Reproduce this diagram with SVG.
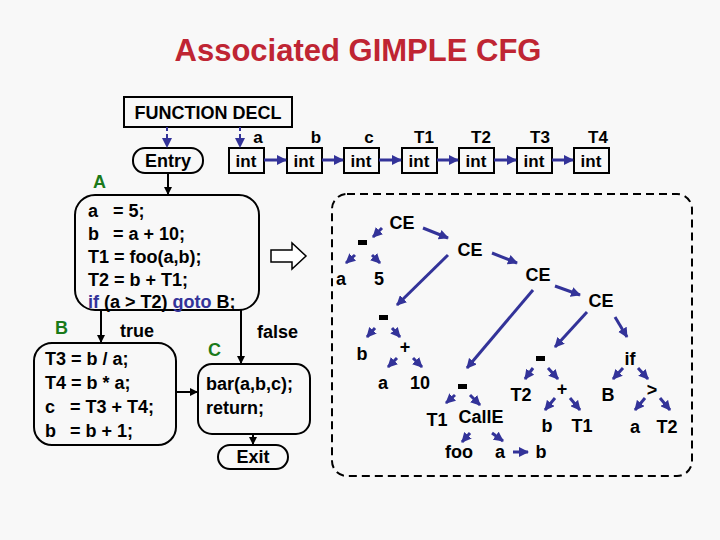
<svg xmlns="http://www.w3.org/2000/svg" width="720" height="540" viewBox="0 0 720 540">
<style>
text{font-family:"Liberation Sans",Arial,sans-serif;font-weight:bold;font-size:18px;fill:#000}
.t{font-size:17px;text-anchor:middle}
.g{fill:#1a7a1a;font-size:18px}
.bl{fill:#333399}
.box{fill:none;stroke:#000;stroke-width:2}
.ba{stroke:#000;stroke-width:2;fill:none;marker-end:url(#ka)}
.ua{stroke:#333399;stroke-width:3;fill:none;marker-end:url(#ua)}
.ud{stroke:#333399;stroke-width:2;stroke-dasharray:4,3;fill:none;marker-end:url(#ua)}
</style>
<defs>
<marker id="ka" markerWidth="8" markerHeight="8" refX="7" refY="4" orient="auto" markerUnits="userSpaceOnUse"><path d="M0,0L8,4L0,8z" fill="#000"/></marker>
<marker id="ua" markerWidth="10" markerHeight="10" refX="9" refY="5" orient="auto" markerUnits="userSpaceOnUse"><path d="M0,0L10,5L0,10z" fill="#333399"/></marker>
</defs>
<rect width="720" height="540" fill="#f8f8f8"/>
<text x="358" y="61" style="font-size:31px;fill:#bf2533;text-anchor:middle">Associated GIMPLE CFG</text>

<g id="fdecl"><rect class="box" x="124" y="97" width="168" height="30" fill="#fff"/><text x="208" y="119" text-anchor="middle">FUNCTION DECL</text></g>
<g id="entry"><rect class="box" x="133" y="148" width="70" height="25" rx="12"/><text x="168" y="167" text-anchor="middle">Entry</text></g>
<g id="ints">
<rect class="box" x="229" y="148" width="35" height="25"/><text x="246" y="167" class="t">int</text><text x="258" y="143" class="t">a</text>
<rect class="box" x="287" y="148" width="35" height="25"/><text x="304" y="167" class="t">int</text><text x="316" y="143" class="t">b</text>
<rect class="box" x="344" y="148" width="35" height="25"/><text x="361" y="167" class="t">int</text><text x="369" y="143" class="t">c</text>
<rect class="box" x="402" y="148" width="35" height="25"/><text x="419" y="167" class="t">int</text><text x="424" y="143" class="t">T1</text>
<rect class="box" x="459" y="148" width="35" height="25"/><text x="476" y="167" class="t">int</text><text x="481" y="143" class="t">T2</text>
<rect class="box" x="517" y="148" width="35" height="25"/><text x="534" y="167" class="t">int</text><text x="540" y="143" class="t">T3</text>
<rect class="box" x="574" y="148" width="35" height="25"/><text x="591" y="167" class="t">int</text><text x="598" y="143" class="t">T4</text>
</g>
<g id="A"><text x="93" y="188" class="g">A</text><rect class="box" x="75" y="195" width="184" height="115" rx="20"/>
<text x="88" y="217">a<tspan x="113">= 5;</tspan></text><text x="88" y="240">b<tspan x="113">= a + 10;</tspan></text><text x="88" y="263">T1 = foo(a,b);</text><text x="88" y="286">T2 = b + T1;</text>
<text x="88" y="308"><tspan class="bl">if</tspan> (a &gt; T2) <tspan class="bl">goto</tspan> B;</text></g>
<g id="B"><text x="55" y="334" class="g">B</text><rect class="box" x="34" y="343" width="142" height="102" rx="18"/>
<text x="45" y="365">T3 = b / a;</text><text x="45" y="389">T4 = b * a;</text><text x="45" y="413">c<tspan x="70">= T3 + T4;</tspan></text><text x="45" y="437">b<tspan x="70">= b + 1;</tspan></text></g>
<g id="C"><text x="208" y="356" class="g">C</text><rect class="box" x="198" y="364" width="112" height="70" rx="14"/>
<text x="206" y="390">bar(a,b,c);</text><text x="206" y="414">return;</text></g>
<g id="exit"><rect class="box" x="218" y="445" width="70" height="24" rx="12"/><text x="253" y="463" text-anchor="middle">Exit</text></g>
<text x="120" y="337">true</text><text x="257" y="338">false</text>
<path d="M271,250H292V243L306,256L292,269V262H271Z" fill="#fff" stroke="#000" stroke-width="1.5"/>
<rect x="332" y="194" width="360" height="282" rx="15" fill="none" stroke="#000" stroke-width="2" stroke-dasharray="8,5"/>

<g id="connectors">
<path class="ud" d="M167,127V147"/><path class="ud" d="M240,127V147"/>
<path class="ua" d="M264,160H286"/><path class="ua" d="M322,160H343"/><path class="ua" d="M379,160H401"/><path class="ua" d="M437,160H458"/><path class="ua" d="M494,160H516"/><path class="ua" d="M552,160H573"/>
<path class="ba" d="M168,173V194"/><path class="ba" d="M101,310V342"/><path class="ba" d="M241,310V363"/>
<path class="ba" d="M176,392H197"/><path class="ba" d="M253,434V444"/>
<path class="ua" d="M382,228L373,237"/><path class="ua" d="M355,255L346,263"/><path class="ua" d="M372,255L380,263"/>
<path class="ua" d="M423,228L448,238"/><path class="ua" d="M448,255L397,305"/>
<path class="ua" d="M375,328L367,337"/><path class="ua" d="M392,328L400,337"/>
<path class="ua" d="M397,358L388,367"/><path class="ua" d="M413,358L422,367"/>
<path class="ua" d="M492,253L517,263"/><path class="ua" d="M533,290L467,368"/>
<path class="ua" d="M455,395L446,403"/><path class="ua" d="M470,395L480,405"/>
<path class="ua" d="M470,433L462,442"/><path class="ua" d="M492,433L503,441"/><path class="ua" d="M513,452L528,452"/>
<path class="ua" d="M555,286L580,295"/><path class="ua" d="M587,312L555,347"/><path class="ua" d="M615,317L627,337"/>
<path class="ua" d="M533,368L525,379"/><path class="ua" d="M548,368L558,379"/>
<path class="ua" d="M555,398L545,410"/><path class="ua" d="M570,398L580,410"/>
<path class="ua" d="M623,368L613,379"/><path class="ua" d="M638,368L648,379"/>
<path class="ua" d="M645,398L635,410"/><path class="ua" d="M660,398L670,410"/>
</g>
<g id="tree" text-anchor="middle">
<text x="402" y="229">CE</text><text x="470" y="256">CE</text><text x="538" y="281">CE</text><text x="601" y="307">CE</text>
<rect x="358" y="240" width="9" height="5"/><rect x="379" y="315" width="9" height="5"/><rect x="458" y="384" width="9" height="5"/><rect x="536" y="356" width="9" height="5"/>
<text x="341" y="285">a</text><text x="379" y="285">5</text>
<text x="362" y="360">b</text><text x="405" y="353">+</text><text x="383" y="389">a</text><text x="420" y="389">10</text>
<text x="437" y="426">T1</text><text x="481" y="423">CallE</text><text x="459" y="458">foo</text><text x="500" y="458">a</text><text x="541" y="458">b</text>
<text x="521" y="401">T2</text><text x="562" y="395">+</text><text x="547" y="432">b</text><text x="582" y="432">T1</text>
<text x="630" y="365">if</text><text x="608" y="401">B</text><text x="652" y="396">&gt;</text><text x="635" y="433">a</text><text x="667" y="433">T2</text>
</g>
</svg>
